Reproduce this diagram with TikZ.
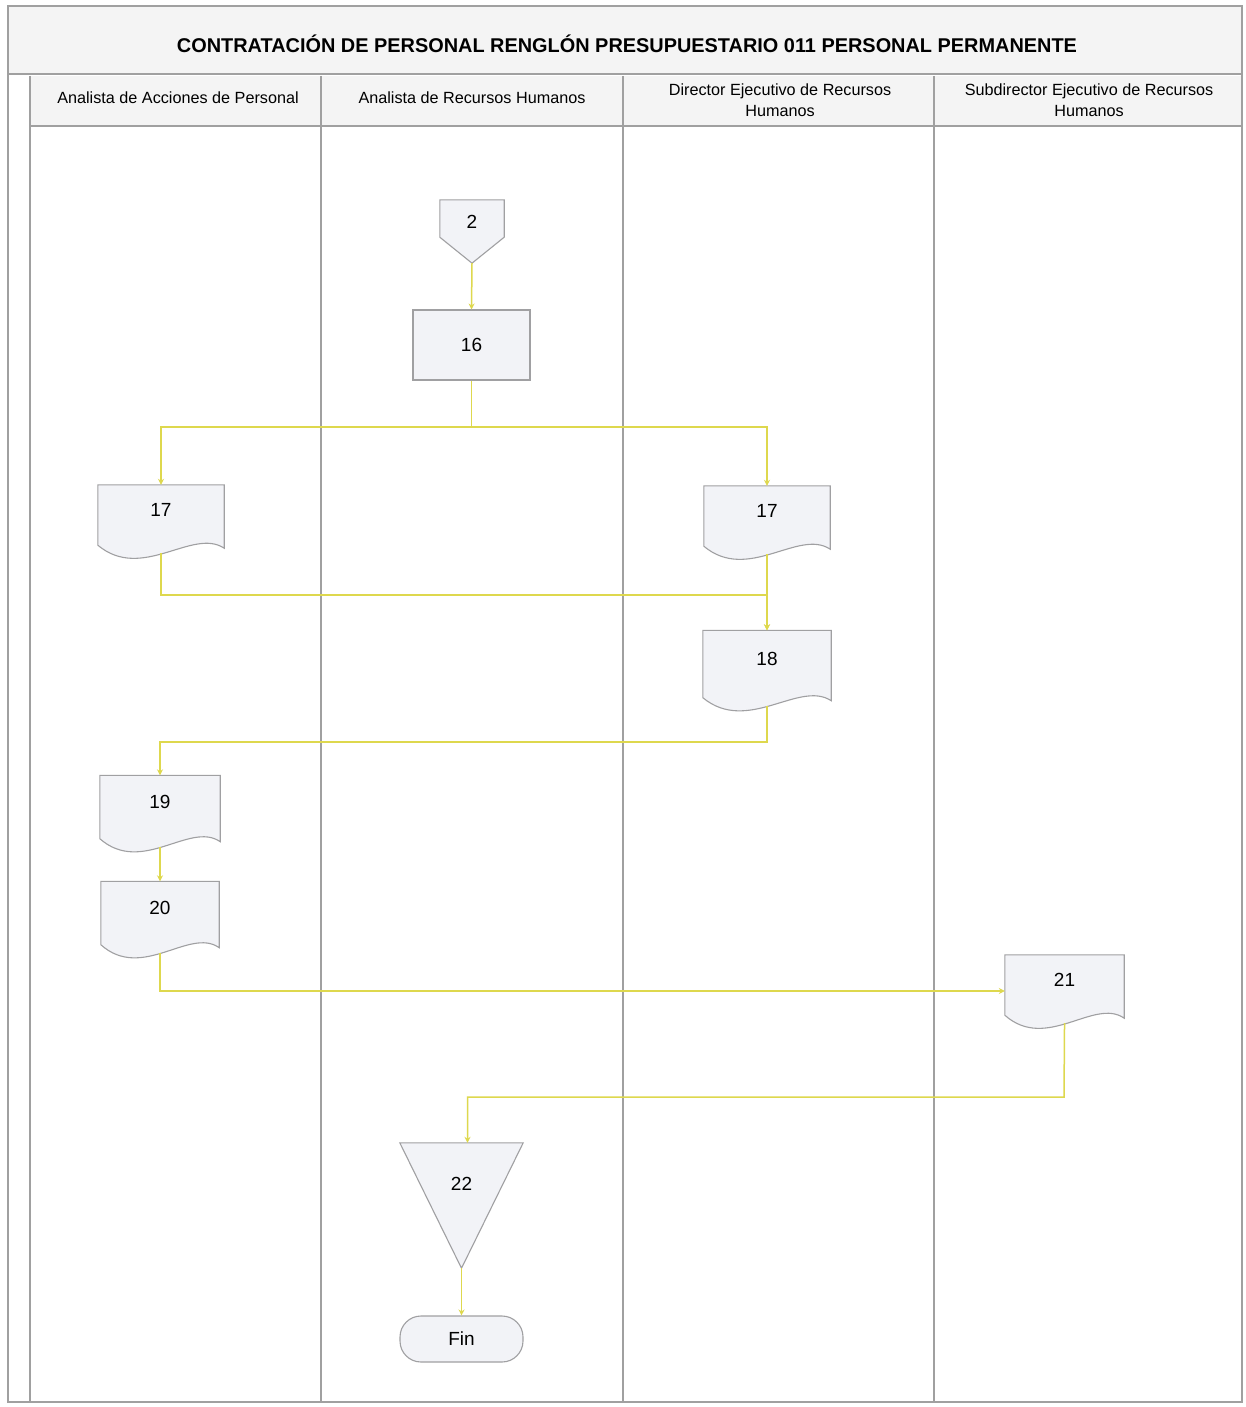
\documentclass[tikz,border=0pt]{standalone}
\usepackage{fontspec}
\setmainfont{Liberation Sans}
\usetikzlibrary{calc,arrows.meta}

\definecolor{framec}{RGB}{160,160,160}
\definecolor{headfill}{RGB}{244,244,244}
\definecolor{boxfill}{RGB}{242,243,247}
\definecolor{boxline}{RGB}{160,160,162}
\definecolor{flowc}{RGB}{222,216,78}

\pgfdeclarelayer{grid}
\pgfdeclarelayer{shapes}
\pgfsetlayers{grid,shapes,main}

% document symbol: rectangle with a wavy lower edge, built on a node's anchors
\newcommand\docoutline[1]{%
  \filldraw[outline] (#1.north west) -- (#1.north east) -- ($(#1.south east)+(0,-9)$)
    .. controls ($(#1.south west)!0.75!(#1.south east)+(0,-30)$)
           and ($(#1.south west)!0.35!(#1.south east)+(0,25)$)
    .. ($(#1.south west)+(0,-12)$) -- cycle;}

\begin{document}
\begin{tikzpicture}[x=1pt,y=-1pt,
  lane/.style={draw=framec,line width=1.3pt},
  outline/.style={draw=boxline,fill=boxfill,line width=1.1pt},
  lbl/.style={inner sep=0pt,font=\fontsize{19}{21}\selectfont},
  doc/.style={lbl,text depth=22pt},
  head/.style={inner sep=0pt,align=center,font=\fontsize{16.2}{21}\selectfont},
  titletext/.style={inner sep=0pt,font=\fontsize{19.9}{22}\selectfont\bfseries},
  flow/.style={draw=flowc,line width=1.5pt,-{Stealth[length=6pt,width=6pt]}},
  fromdoc/.style={shorten <=-4pt},
]
\useasboundingbox (0,0) rectangle (1245,1407);

% ---- swimlane frame ----
\begin{pgfonlayer}{grid}
  \fill[white] (0,0) rectangle (1245,1407);
  \fill[headfill] (8,6) rectangle (1242,74);
  \fill[headfill] (30,76) rectangle (1242,126);
  \draw[lane] (8,6) rectangle (1242,1402);
  \draw[lane] (8,74) -- (1242,74);
  \draw[lane] (30,126) -- (1242,126);
  \foreach \xx in {30,321,623,934}
    \draw[lane] (\xx,76) -- (\xx,1402);
\end{pgfonlayer}

\node[titletext] (title) at (627,44) {CONTRATACIÓN DE PERSONAL RENGLÓN PRESUPUESTARIO 011 PERSONAL PERMANENTE};
\node[head] (h1) at (178,98) {Analista de Acciones de Personal};
\node[head] (h2) at (472,98) {Analista de Recursos Humanos};
\node[head] (h3) at (780,100) {Director Ejecutivo de Recursos\\Humanos};
\node[head] (h4) at (1089,100) {Subdirector Ejecutivo de Recursos\\Humanos};

% ---- process symbols ----
\node[lbl,text depth=19pt,minimum width=64,minimum height=63] (n2) at (472,231.5) {2};
\node[lbl,outline,minimum width=117,minimum height=70] (n16) at (471.5,345) {16};
\node[doc,minimum width=126,minimum height=72] (n17a) at (161,521) {17};
\node[doc,minimum width=126,minimum height=72] (n17b) at (767,522) {17};
\node[doc,minimum width=128,minimum height=79] (n18) at (767,670) {18};
\node[doc,minimum width=120,minimum height=75] (n19) at (160,813) {19};
\node[doc,minimum width=118,minimum height=75] (n20) at (160,919) {20};
\node[doc,minimum width=119,minimum height=72] (n21) at (1064.5,991) {21};
\node[lbl,text depth=43pt,minimum width=123,minimum height=125] (n22) at (461.5,1205.5) {22};
\node[lbl,outline,rounded corners=21pt,minimum width=123,minimum height=46] (fin) at (461.5,1339) {Fin};

\begin{pgfonlayer}{shapes}
  \filldraw[outline] (n2.north west) -- (n2.north east) -- ($(n2.south east)+(0,-26)$)
    -- (n2.south) -- ($(n2.south west)+(0,-26)$) -- cycle;
  \docoutline{n17a}
  \docoutline{n17b}
  \docoutline{n18}
  \docoutline{n19}
  \docoutline{n20}
  \docoutline{n21}
  \filldraw[outline] (n22.north west) -- (n22.north east) -- (n22.south) -- cycle;
\end{pgfonlayer}

% ---- connectors ----
\coordinate (j16) at (471.5,427);
\coordinate (j17) at (767,595);
\coordinate (j18) at (767,742);
\coordinate (j21) at (1064,1097);
\coordinate (in22) at ($(n22.north)+(6,0)$);

\draw[flow] (n2.south) -- (n16.north);
\draw[flow] (n16.south) -- (j16) -| (n17a.north);
\draw[flow] (j16) -| (n17b.north);
\draw[flow,fromdoc] (n17a.south) |- (j17) -- (n18.north);
\draw[flow,fromdoc] (n17b.south) -- (n18.north);
\draw[flow,fromdoc] (n18.south) -- (j18) -| (n19.north);
\draw[flow,fromdoc] (n19.south) -- (n20.north);
\draw[flow,fromdoc] (n20.south) |- (n21.west);
\draw[flow,fromdoc] (n21.south) -- (j21) -| (in22);
\draw[flow] (n22.south) -- (fin.north);
\end{tikzpicture}
\end{document}
